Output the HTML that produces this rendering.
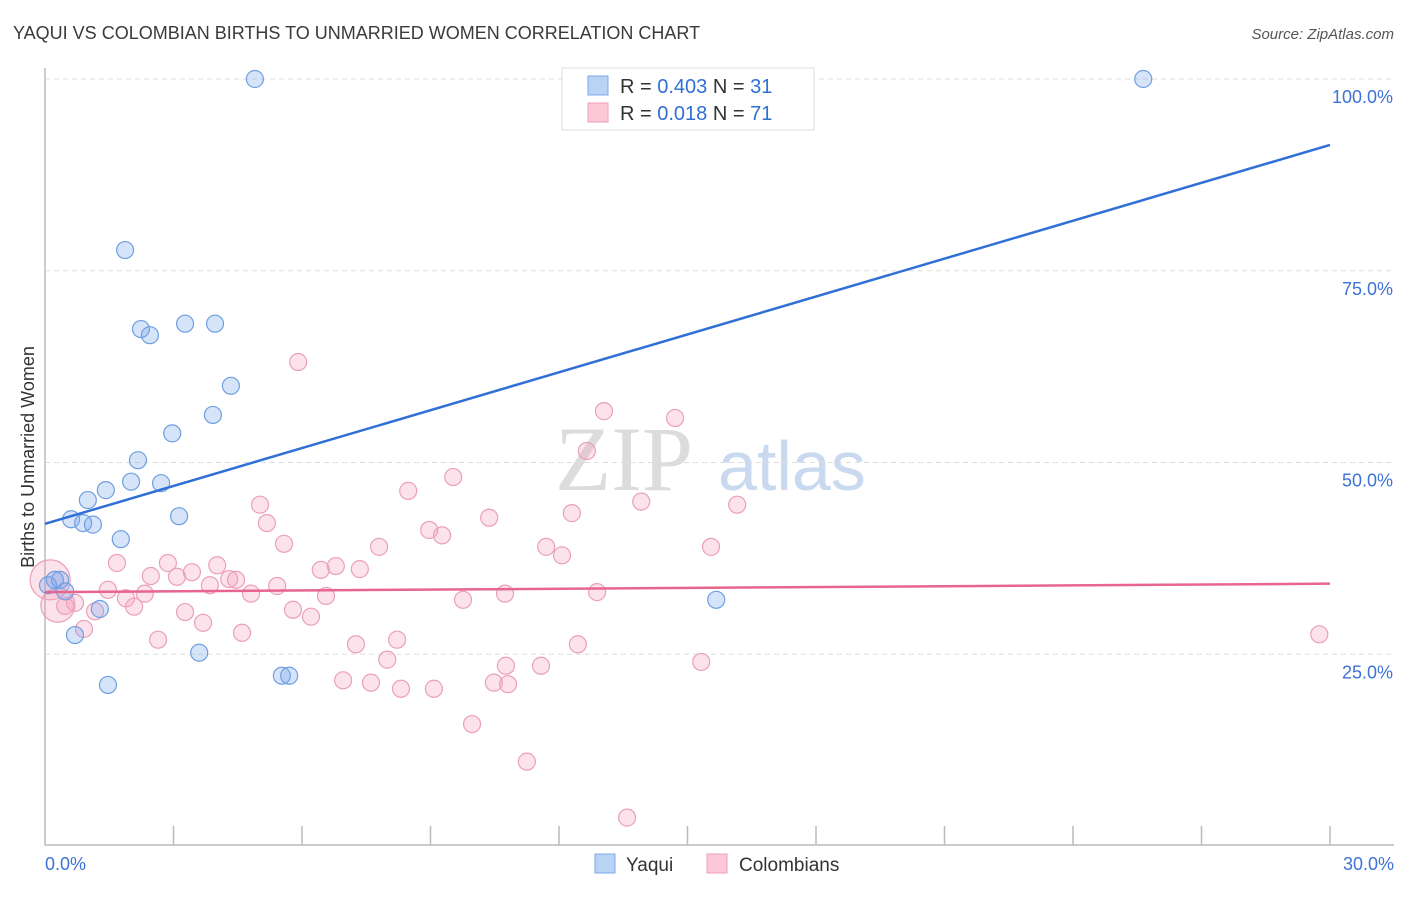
<!DOCTYPE html>
<html><head><meta charset="utf-8"><style>
body{margin:0;background:#fff;font-family:"Liberation Sans",sans-serif}
</style></head><body>
<svg id="c" width="1406" height="892" xmlns="http://www.w3.org/2000/svg" style="font-family:'Liberation Sans',sans-serif">
<text x="13" y="39" font-size="18" fill="#3a3a3a">YAQUI VS COLOMBIAN BIRTHS TO UNMARRIED WOMEN CORRELATION CHART</text>
<text x="1394" y="39" font-size="15" fill="#555" text-anchor="end" font-style="italic">Source: ZipAtlas.com</text>
<text x="555" y="490" font-size="92" fill="#dcdcdc" font-family="Liberation Serif">ZIP</text>
<text x="718" y="490" font-size="70" fill="#c9daf0">atlas</text>
<text transform="translate(34,457) rotate(-90)" font-size="18" fill="#333" text-anchor="middle">Births to Unmarried Women</text>
<g id="grid"></g><g id="pts"></g><g id="lines"></g>
<g>
<rect x="562" y="68" width="252" height="62" fill="#fff" stroke="#ddd"/>
<rect x="588" y="76" width="20" height="19" fill="#b9d3f5" stroke="#7fa9e6"/>
<rect x="588" y="103" width="20" height="19" fill="#fcc8d7" stroke="#ef9fb8"/>
<text x="620" y="93" font-size="20" fill="#333">R = <tspan fill="#2f6fd6">0.403</tspan>   N = <tspan fill="#2f6fd6">31</tspan></text>
<text x="620" y="120" font-size="20" fill="#333">R =  <tspan fill="#2f6fd6">0.018</tspan>   N = <tspan fill="#2f6fd6">71</tspan></text>
</g>
<g>
<rect x="595" y="854" width="20" height="19" fill="#b9d3f5" stroke="#7fa9e6"/>
<text x="626" y="871" font-size="19" fill="#333">Yaqui</text>
<rect x="707" y="854" width="20" height="19" fill="#fcc8d7" stroke="#ef9fb8"/>
<text x="739" y="871" font-size="19" fill="#333">Colombians</text>
</g>
</svg>
<script>
const yTicks=[25,50,75,100];
const yTickLabels=["25.0%","50.0%","75.0%","100.0%"];
const xTickLabels=["0.0%","30.0%"];
const yaquiX=[4.90,25.64,1.87,2.24,2.45,3.27,3.97,4.34,3.92,2.97,2.17,2.01,1.42,2.71,1.00,3.13,0.61,0.89,1.12,1.77,0.23,0.35,0.07,0.47,1.28,0.70,3.60,15.67,5.53,5.70,1.47];
const yaquiY=[100,100,77.7,67.4,66.6,68.1,68.1,60.0,56.2,53.8,50.3,47.5,46.4,47.3,45.1,43.0,42.6,42.1,41.9,40.0,34.7,34.7,34.0,33.2,30.9,27.5,25.2,32.1,22.2,22.2,21.0];
const colX=[5.91,13.05,14.71,12.65,9.53,8.48,5.02,13.92,16.16,5.18,10.37,12.30,8.97,9.27,5.58,7.80,11.70,12.07,15.55,1.68,2.87,4.02,6.44,6.79,7.35,2.47,3.08,3.43,4.30,4.46,3.85,5.42,1.47,2.33,1.89,4.81,12.89,6.56,10.74,9.76,0.70,0.47,1.17,2.08,3.27,5.79,6.21,3.69,0.91,4.60,2.64,7.26,8.22,12.44,7.99,15.32,10.76,11.58,29.75,6.96,7.61,8.31,9.08,10.48,10.81,9.97,11.25,13.59,0.12,0.30];
const colY=[63.1,56.7,55.8,51.5,48.1,46.3,44.5,44.9,44.5,42.1,42.8,43.4,41.2,40.5,39.4,39.0,39.0,37.9,39.0,36.9,36.9,36.6,36.0,36.5,36.1,35.2,35.1,35.7,34.8,34.7,34.0,33.9,33.4,32.9,32.3,32.9,33.1,32.6,32.9,32.1,31.7,31.3,30.6,31.2,30.5,30.8,29.9,29.1,28.3,27.8,26.9,26.3,26.9,26.3,24.3,24.0,23.5,23.5,27.6,21.6,21.3,20.5,20.5,21.3,21.1,15.9,11.0,3.7,34.7,31.4];
const colR=colX.map((v,i)=>i>=68?(i==68?20:17):8.5);
const yaquiFit=[42.0,91.4];
const colFit=[33.1,34.2];
const NS="http://www.w3.org/2000/svg";
const X=v=>45+v*1285/30, Y=v=>846-v*7.67;
function mk(t,a,p){const e=document.createElementNS(NS,t);for(const k in a)e.setAttribute(k,a[k]);p.appendChild(e);return e;}
const g=document.getElementById('grid');
yTicks.forEach((t,i)=>{
 const l=mk('line',{x1:45,x2:1394,y1:Y(t),y2:Y(t),stroke:'#ddd','stroke-dasharray':'5,4'},g);
 
 
 const tx=mk('text',{x:1393,y:Y(t)+24,'font-size':18,fill:'#3d72d6','text-anchor':'end'},g);
 tx.textContent=yTickLabels[i];
 
 
});
const ax=mk('path',{d:'M45,68 V845 H1394',fill:'none',stroke:'#bbb','stroke-width':1.5},g);


for(let i=1;i<=10;i++){const t=mk('line',{x1:X(i*3),x2:X(i*3),y1:826,y2:845,stroke:'#bbb','stroke-width':1.5},g);
 
 }
[[0,'start',45],[1,'end',1394]].forEach(([i,a,x])=>{const t=mk('text',{x:x,y:870,'font-size':18,fill:'#3d72d6','text-anchor':a},g);t.textContent=xTickLabels[i];
 
 });
const p=document.getElementById('pts');
colX.forEach((v,i)=>{const c=mk('circle',{cx:X(v),cy:Y(colY[i]),r:colR[i],fill:'rgba(245,160,190,0.3)',stroke:'#eaa0b8','stroke-width':1.2},p);
 
 });
yaquiX.forEach((v,i)=>{const c=mk('circle',{cx:X(v),cy:Y(yaquiY[i]),r:8.5,fill:'rgba(120,165,235,0.3)',stroke:'#6f9fe0','stroke-width':1.2},p);
 
 });
const L=document.getElementById('lines');
const l1=mk('line',{x1:X(0),x2:X(30),y1:Y(yaquiFit[0]),y2:Y(yaquiFit[1]),stroke:'#2f6fd6','stroke-width':2.5},L);


const l2=mk('line',{x1:X(0),x2:X(30),y1:Y(colFit[0]),y2:Y(colFit[1]),stroke:'#e8658e','stroke-width':2.5},L);


</script>
</body></html>
